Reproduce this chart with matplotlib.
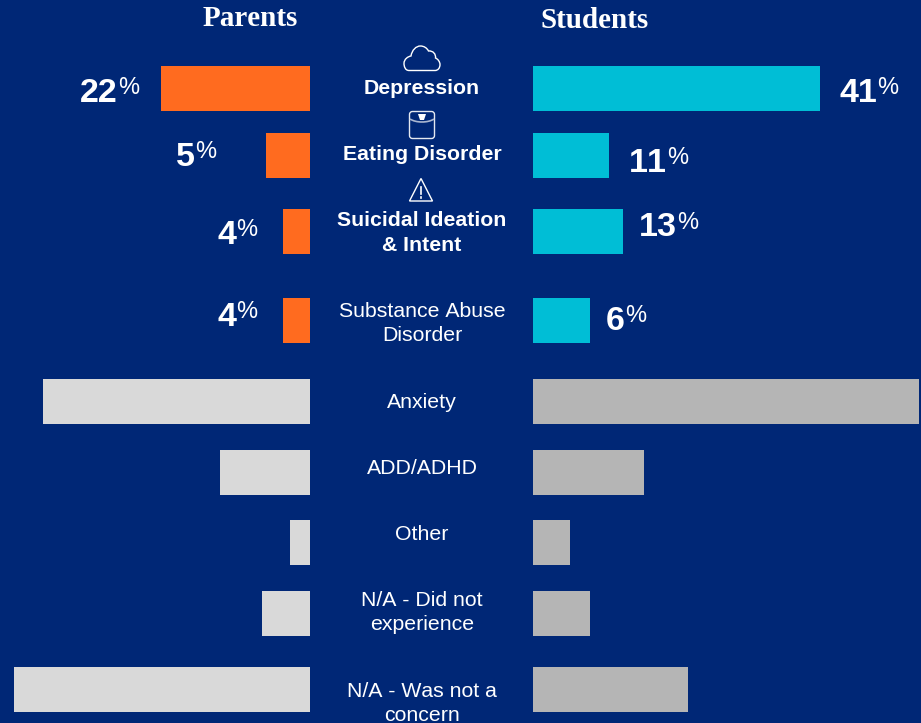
import matplotlib
matplotlib.use('Agg')
import matplotlib.pyplot as plt
from matplotlib.patches import FancyBboxPatch, PathPatch, Polygon
from matplotlib.path import Path

# bar lengths (percent)
parents = [21.3, 6.3, 3.9, 3.9, 38.1, 12.9, 2.9, 6.9, 42.3]
students = [41.0, 10.9, 12.9, 8.1, 55.1, 15.9, 5.3, 8.1, 22.1]

# printed labels for the highlighted rows
parent_labels = ['22', '5', '4', '4']
student_labels = ['41', '11', '13', '6']

categories = ['Depression', 'Eating Disorder', 'Suicidal Ideation\n& Intent',
              'Substance Abuse\nDisorder', 'Anxiety', 'ADD/ADHD', 'Other',
              'N/A - Did not\nexperience', 'N/A - Was not a\nconcern']

W, H = 921, 723
NAVY = '#002776'
ORANGE = '#ff6b1f'
TEAL = '#00bed6'
LIGHT = '#d9d9d9'
GREY = '#b5b5b5'
PX = 7.0  # pixels per percent

# layout, in pixels from the top of the figure
bar_y = [88, 155, 231, 320, 401, 472, 542, 613, 689]
text_y = [89, 154, 233, 323.5, 403, 469, 534, 612.5, 703.5]
parent_text = [(138, 93), (215, 157), (256, 235), (256, 317)]
student_text = [(839, 93), (629, 163), (639, 228), (606, 321)]

plt.rcParams['font.family'] = ['Liberation Sans', 'DejaVu Sans']
plt.rcParams['text.kerning_factor'] = 6
fig = plt.figure(figsize=(W / 100, H / 100), dpi=100, facecolor=NAVY)


def make_bar_axes(x0, x1, xlim):
    ax = fig.add_axes([x0 / W, 0, (x1 - x0) / W, 1])
    ax.set_xlim(*xlim)
    ax.set_ylim(H, 0)
    ax.axis('off')
    return ax


left = make_bar_axes(0, 310, (310 / PX, 0))
right = make_bar_axes(533, 921, (0, 388 / PX))
left.barh(bar_y, parents, height=45, color=[ORANGE] * 4 + [LIGHT] * 5)
right.barh(bar_y, students, height=45, color=[TEAL] * 4 + [GREY] * 5)

# overlay in pixel coordinates for text and icons
ov = fig.add_axes([0, 0, 1, 1])
ov.set_xlim(0, W)
ov.set_ylim(H, 0)
ov.axis('off')

for i, (name, y) in enumerate(zip(categories, text_y)):
    ov.text(422, y, name, color='white', ha='center', va='center', fontsize=15.3,
            fontweight='bold' if i < 3 else 'normal', linespacing=1.38)


def pct_label(x, y, value):
    t = ov.text(x, y, value, color='white', fontsize=24.5, fontweight='bold',
                ha='left', va='center')
    bb = t.get_window_extent(fig.canvas.get_renderer())
    ov.text(x + bb.width, y - 5, '%', color='white', fontsize=17,
            ha='left', va='center')


for (x, y), v in zip(parent_text, parent_labels):
    t = ov.text(0, 0, v, fontsize=24.5, fontweight='bold')
    w = t.get_window_extent(fig.canvas.get_renderer()).width
    t.remove()
    pct_label(x - w - 20, y, v)
for (x, y), v in zip(student_text, student_labels):
    pct_label(x, y, v)

ov.text(250, 18, 'Parents', color='white', family='Liberation Serif', fontweight='bold',
        fontsize=21, ha='center', va='center')
ov.text(595, 21, 'Students', color='white', family='Liberation Serif', fontweight='bold',
        fontsize=21, ha='center', va='center')

# cloud icon
cloud = [(409, 70.5), (405, 70.5), (404, 66), (404, 63.5), (404, 59), (408, 56.5), (411, 56),
         (412, 50), (416, 46), (420.5, 46), (424, 46), (427, 48), (428.5, 51),
         (433, 50.5), (436, 54), (435.5, 58), (438, 59), (440, 62), (440, 64.5),
         (440, 68), (438, 70.5), (435, 70.5), (409, 70.5)]
codes = [Path.MOVETO] + [Path.CURVE4] * 21 + [Path.LINETO]
ov.add_patch(PathPatch(Path(cloud, codes), fill=False, ec='white', lw=1))

# scale icon
ov.add_patch(FancyBboxPatch((411, 113), 22, 24, boxstyle='round,pad=1.5,rounding_size=3',
                            fill=False, ec='#e4e8f0', lw=1))
arc = [(410, 119), (416, 123), (428, 123), (434, 119)]
ov.add_patch(PathPatch(Path(arc, [Path.MOVETO] + [Path.CURVE4] * 3), fill=False,
                       ec='#aab6d0', lw=1.2))
ov.add_patch(Polygon([(418, 114), (426, 114), (424, 120), (420, 120)], fc='white', ec='none'))

# warning icon
ov.add_patch(Polygon([(421, 178.5), (409.5, 201), (432.5, 201)], closed=True, fill=False,
                     ec='white', lw=1))
ov.plot([421, 421], [187, 194], color='white', lw=1.2)
ov.plot([421, 421], [196.5, 198], color='white', lw=1.2)

fig.savefig('out.png', dpi=100, facecolor=NAVY)
